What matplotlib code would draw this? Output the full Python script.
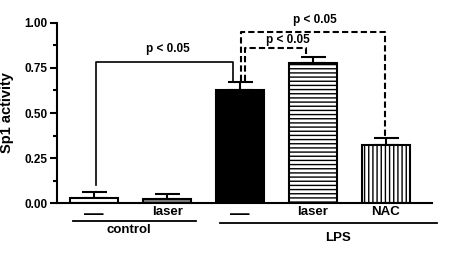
import matplotlib
matplotlib.use("Agg")
import matplotlib.pyplot as plt
from matplotlib.ticker import MultipleLocator
import matplotlib.transforms as mtrans

plt.rcParams['font.family'] = ['Liberation Sans', 'DejaVu Sans']
plt.rcParams['font.weight'] = 'bold'
plt.rcParams['hatch.linewidth'] = 1.0

# data
labels = ["\u2014", "laser", "\u2014", "laser", "NAC"]
means = [0.03, 0.02, 0.63, 0.775, 0.32]
errs = [0.03, 0.03, 0.04, 0.035, 0.04]
fills = ["white", "#808080", "black", "white", "white"]
hatches = [None, None, None, "----", "||||"]

groups = ["control", "LPS"]
group_span = [(-0.29, 1.40), (1.73, 4.70)]
group_text_x = [0.47, 3.34]

# significance brackets: x left, x right, y left foot, y top, y right foot
brackets = [
    (0.02, 1.90, 0.10, 0.785, 0.68),
    (2.07, 2.90, 0.68, 0.863, 0.82),
    (2.01, 3.99, 0.68, 0.951, 0.36),
]
bracket_styles = ["-", "--", "--"]
bracket_text = [(1.01, 0.855), (2.65, 0.905), (3.03, 1.017)]
ptext = "p < 0.05"

fig = plt.figure(figsize=(4.49, 2.58), dpi=100)
ax = fig.add_axes([0.127, 0.213, 0.835, 0.698])

x = list(range(len(means)))
ax.bar(x, means, width=0.66, color=fills, edgecolor="black", linewidth=1.5,
       hatch=hatches, zorder=2)
ax.errorbar(x, means, yerr=[[0] * len(errs), errs], fmt="none", ecolor="black",
            elinewidth=1.5, capsize=9, capthick=1.5, zorder=1)

ax.set_xlim(-0.51, 4.63)
ax.set_ylim(0, 1.0)
ax.spines["top"].set_visible(False)
ax.spines["right"].set_visible(False)
ax.spines["left"].set_linewidth(1.5)
ax.spines["bottom"].set_linewidth(1.5)
ax.yaxis.set_major_locator(MultipleLocator(0.25))
ax.yaxis.set_minor_locator(MultipleLocator(0.125))
ax.yaxis.set_major_formatter(matplotlib.ticker.FormatStrFormatter("%.2f"))
ax.tick_params(axis="y", which="major", length=5, width=1.5, labelsize=8.5, pad=2)
ax.tick_params(axis="y", which="minor", length=3, width=1.5)
ax.set_ylabel("Sp1 activity", fontsize=10.5, fontweight="bold", labelpad=7)

ax.set_xticks(x)
ax.set_xticklabels(labels, fontsize=9.5, fontweight="bold")
ax.tick_params(axis="x", length=0, pad=2)
for t, lab in zip(ax.get_xticklabels(), labels):
    if lab == "\u2014":
        t.set_fontsize(14)

trans = mtrans.blended_transform_factory(ax.transData, ax.transAxes)
ys = [-0.10, -0.112]
offs = [0.05, 0.08]
for (x0, x1), g, tx, yy, off in zip(group_span, groups, group_text_x, ys, offs):
    ax.plot([x0, x1], [yy, yy], color="black", lw=1.3, transform=trans, clip_on=False)
    ax.text(tx, yy - off, g, transform=trans, ha="center", va="center",
            fontsize=9.5, fontweight="bold")

for (xl, xr, yl, yt, yr), ls in zip(brackets, bracket_styles):
    if ls == "-":
        ax.plot([xl, xl, xr, xr], [yl, yt, yt, yr], color="black", lw=1.2,
                clip_on=False, zorder=3)
    else:
        ax.plot([xl, xl, xr, xr], [yl, yt, yt, yr], color="black", lw=1.5,
                linestyle="--", dashes=(3, 1.5), clip_on=False, zorder=3)

for tx, ty in bracket_text:
    ax.text(tx, ty, ptext, ha="center", va="center", fontsize=8.5, fontweight="bold")

fig.savefig("out.png", dpi=100)
